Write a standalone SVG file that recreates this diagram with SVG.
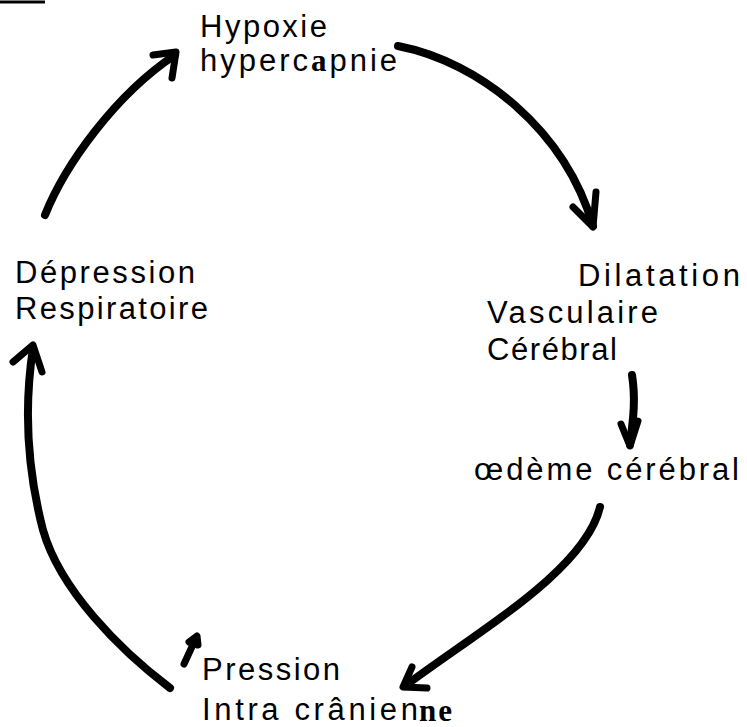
<svg xmlns="http://www.w3.org/2000/svg" width="747" height="727" viewBox="0 0 747 727">
<style>
text{font-family:"Liberation Sans",Arial,sans-serif;font-size:31px;fill:#000}
.hw{font-weight:bold;font-family:"Liberation Serif",serif}
.c{fill:none;stroke:#000;stroke-width:8;stroke-linecap:round;stroke-linejoin:round}
.h{fill:none;stroke:#000;stroke-width:7;stroke-linecap:round;stroke-linejoin:round}
</style>
<rect width="747" height="727" fill="#fff"/>
<line x1="0" y1="2" x2="45" y2="2" stroke="#000" stroke-width="3"/>
<g id="hypoxie">
<text x="200" y="37" textLength="127" lengthAdjust="spacing">Hypoxie</text>
<text x="200" y="71" textLength="197" lengthAdjust="spacing">hyperc<tspan class="hw">a</tspan>pnie</text>
</g>
<g id="dilatation">
<text x="578" y="286" textLength="162" lengthAdjust="spacing">Dilatation</text>
<text x="487" y="323" textLength="171" lengthAdjust="spacing">Vasculaire</text>
<text x="487" y="360" textLength="130" lengthAdjust="spacing">Cérébral</text>
</g>
<g id="oedeme">
<text x="474" y="480" textLength="265" lengthAdjust="spacing">œdème cérébral</text>
</g>
<g id="pression">
<text x="202" y="680" textLength="138" lengthAdjust="spacing">Pression</text>
<text x="202" y="720" textLength="216" lengthAdjust="spacing">Intra crânien</text>
<text x="419" y="721" class="hw" font-size="22" textLength="33" lengthAdjust="spacing">ne</text>
</g>
<g id="depression">
<text x="15" y="283" textLength="180" lengthAdjust="spacing">Dépression</text>
<text x="15" y="319" textLength="193" lengthAdjust="spacing">Respiratoire</text>
</g>
<g id="connectors">
<path class="c" d="M398,46 C480,62 565,130 593,226"/>
<path class="h" d="M573,207 L593,227 L596,192"/>
<path class="c" d="M632,375 C636,400 633,420 630,445"/>
<path class="h" d="M621,424 L630,446 L638,421"/>
<path class="c" d="M600,507 C585,570 480,630 405,686"/>
<path class="h" d="M412,667 L403,687 L427,688"/>
<path class="c" d="M170,688 C120,650 60,590 43,530 C30,480 22,420 33,348"/>
<path class="h" d="M13,362 L33,345 L42,372"/>
<path class="h" d="M184,664 L196,638 M189,642 L197,636 L198,645" stroke-width="4"/>
<path class="c" d="M45,215 C65,165 115,95 175,55"/>
<path class="h" d="M153,55 L176,52 L172,78"/>
</g>
</svg>
